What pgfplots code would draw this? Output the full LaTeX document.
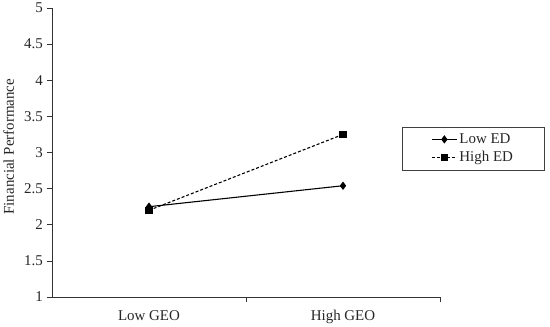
\documentclass[border=0pt]{standalone}
\usepackage{pgfplots}
\pgfplotsset{compat=1.18}
\usepackage{fontspec}
\setmainfont{Liberation Serif}
\begin{document}
\fontsize{15}{17}\selectfont
\begin{tikzpicture}
\path[use as bounding box] (-52bp,-30bp) rectangle (498bp,297bp);
\begin{axis}[
  at={(0bp,0bp)}, anchor=south west,
  scale only axis, width=388bp, height=289bp,
  xmin=-0.5, xmax=1.5, ymin=1, ymax=5,
  axis x line*=bottom, axis y line*=left,
  axis line style={line width=0.8pt, black!80, -},
  xtick={0,1}, xticklabels={Low GEO, High GEO},
  x tick style={draw=none},
  extra x ticks={0.5,1.5}, extra x tick labels={},
  extra x tick style={x tick style={draw=black!80, line width=0.7pt}},
  ytick={1,1.5,...,5},
  yticklabels={1,1.5,2,2.5,3,3.5,4,4.5,5},
  y tick style={draw=black!80, line width=0.7pt},
  tick align=outside, major tick length=5bp,
  /pgf/number format/assume math mode=true,
  tick label style={font=\fontsize{15}{17}\selectfont, text=black!85},
  yticklabel style={xshift=1bp},
  ylabel={Financial Performance},
  ylabel style={font=\fontsize{15}{17}\selectfont, text=black!85, at={(ticklabel cs:0.52)}, xshift=0bp},
  xticklabel style={yshift=-3bp},
  legend style={at={(rel axis cs:0.902,0.588)}, anchor=north west,
    draw=black!75, line width=0.7pt, font=\fontsize{15}{17}\selectfont, text=black!85,
    inner xsep=29bp, inner ysep=4bp, row sep=2bp},
  legend cell align=left,
  legend image code/.code={\draw[#1] (0bp,0bp) -- (25bp,0bp); \draw[#1, solid] plot coordinates {(12.5bp,0bp)};},
  clip=false,
]
\addplot[black, line width=1.1pt, mark=diamond*, mark size=3.3bp] coordinates {(0,2.25) (1,2.54)};
\addlegendentry{Low ED}
\addplot[black, line width=1.1pt, dash pattern=on 3bp off 2bp, mark=square*, mark size=3.2bp, mark options={solid}] coordinates {(0,2.2) (1,3.25)};
\addlegendentry{High ED}
\end{axis}
\end{tikzpicture}
\end{document}
